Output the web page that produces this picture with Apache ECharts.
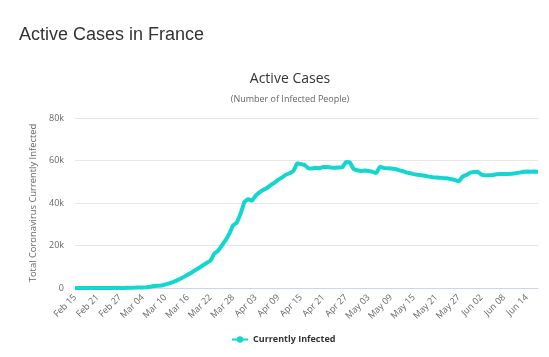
<!DOCTYPE html>
<html>
<head>
<meta charset="utf-8">
<script src="https://cdn.jsdelivr.net/npm/echarts@6/dist/echarts.min.js"></script>
<style>
html,body{margin:0;padding:0;background:#fff;}
#c{width:549px;height:357px;}
</style>
</head>
<body>
<div id="c"></div>
<script>
const categories = [
 "Feb 15","Feb 16","Feb 17","Feb 18","Feb 19","Feb 20","Feb 21","Feb 22","Feb 23","Feb 24","Feb 25","Feb 26","Feb 27","Feb 28","Feb 29",
 "Mar 01","Mar 02","Mar 03","Mar 04","Mar 05","Mar 06","Mar 07","Mar 08","Mar 09","Mar 10","Mar 11","Mar 12","Mar 13","Mar 14","Mar 15","Mar 16","Mar 17","Mar 18","Mar 19","Mar 20","Mar 21","Mar 22","Mar 23","Mar 24","Mar 25","Mar 26","Mar 27","Mar 28","Mar 29","Mar 30","Mar 31",
 "Apr 01","Apr 02","Apr 03","Apr 04","Apr 05","Apr 06","Apr 07","Apr 08","Apr 09","Apr 10","Apr 11","Apr 12","Apr 13","Apr 14","Apr 15","Apr 16","Apr 17","Apr 18","Apr 19","Apr 20","Apr 21","Apr 22","Apr 23","Apr 24","Apr 25","Apr 26","Apr 27","Apr 28","Apr 29","Apr 30",
 "May 01","May 02","May 03","May 04","May 05","May 06","May 07","May 08","May 09","May 10","May 11","May 12","May 13","May 14","May 15","May 16","May 17","May 18","May 19","May 20","May 21","May 22","May 23","May 24","May 25","May 26","May 27","May 28","May 29","May 30","May 31",
 "Jun 01","Jun 02","Jun 03","Jun 04","Jun 05","Jun 06","Jun 07","Jun 08","Jun 09","Jun 10","Jun 11","Jun 12","Jun 13","Jun 14","Jun 15","Jun 16","Jun 17"
];
const currentlyInfected = [
 7,7,7,7,7,7,7,7,7,7,9,13,33,53,85,
 115,177,195,265,364,588,915,1080,1160,1670,2200,2750,3500,4380,5300,6300,7300,8500,9500,10700,11800,12900,16200,17500,20000,22500,25500,29500,30800,35000,40500,
 41800,41000,43500,45000,46200,47000,48500,49500,51000,52000,53300,54000,55000,58700,58300,57900,56300,56200,56600,56400,57000,56900,56700,56600,56700,56800,59300,59200,56000,55400,
 55100,55300,55100,54700,54000,57100,56500,56300,56200,56000,55500,55000,54400,54000,53600,53300,53100,52800,52400,52100,52000,51900,51700,51600,51200,50800,50200,52500,53200,54300,54600,
 54700,53300,53000,53100,53200,53500,53600,53700,53600,53800,54000,54300,54600,54800,54700,54800,54700
];
const yTicks = [0, 20000, 40000, 60000, 80000];
const seriesName = "Currently Infected";

const chart = echarts.init(document.getElementById('c'), null, {renderer:'canvas'});
chart.setOption({
  animation:false,
  backgroundColor:'#fff',
  title:[
    {text:'Active Cases in France', left:14, top:21,
     textStyle:{fontFamily:'Liberation Sans, Arial, sans-serif', fontSize:18, fontWeight:'normal', color:'#333'}},
    {text:'Active Cases', subtext:'(Number of Infected People)', left:285, top:67, textAlign:'center', itemGap:9,
     textStyle:{fontFamily:'Open Sans, sans-serif', fontSize:14, fontWeight:'normal', color:'#333'},
     subtextStyle:{fontFamily:'Open Sans, sans-serif', fontSize:9, color:'#666'}}
  ],
  grid:{left:75, right:11, top:118, bottom:69, containLabel:false},
  legend:{
    data:[seriesName], bottom:8, left:226, itemWidth:16, itemHeight:8,
    textStyle:{fontFamily:'Open Sans, sans-serif', fontSize:9, fontWeight:'bold', color:'#333'}
  },
  xAxis:{
    type:'category', data:categories, boundaryGap:false,
    axisLine:{lineStyle:{color:'#ccd6eb', width:1}},
    axisTick:{show:false},
    axisLabel:{interval:5, rotate:45, fontFamily:'Open Sans, sans-serif', fontSize:9, color:'#666', margin:8}
  },
  yAxis:{
    type:'value', min:0, max:80000, interval:20000,
    name:'Total Coronavirus Currently Infected', nameLocation:'middle', nameGap:35, nameRotate:90,
    nameTextStyle:{fontFamily:'Open Sans, sans-serif', fontSize:9.4, color:'#666'},
    axisLine:{show:false}, axisTick:{show:false},
    splitLine:{lineStyle:{color:'#e6e6e6', width:1}},
    axisLabel:{fontFamily:'Open Sans, sans-serif', fontSize:9, color:'#666', margin:11,
      formatter:function(v){ return yTicks.indexOf(v) >= 0 ? (v===0 ? '0' : (v/1000)+'k') : ''; }}
  },
  series:[{
    name:seriesName, type:'line', data:currentlyInfected,
    showSymbol:false, symbol:'circle', symbolSize:8,
    lineStyle:{color:'#12d6d0', width:4},
    itemStyle:{color:'#12d6d0'}
  }]
});
</script>
</body>
</html>
